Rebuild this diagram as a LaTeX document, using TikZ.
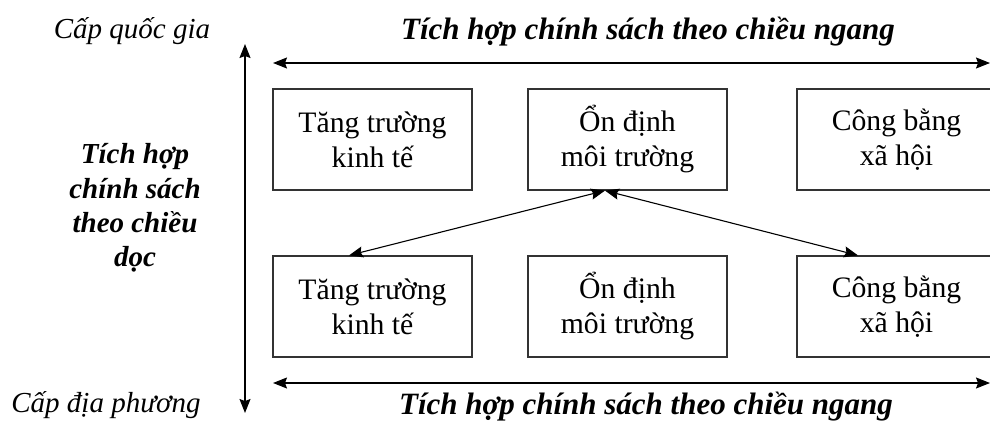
\documentclass[tikz,border=0pt]{standalone}
\usepackage{fontspec}
\setmainfont{Liberation Serif}
\usetikzlibrary{arrows.meta,calc}
\begin{document}
\begin{tikzpicture}[x=1pt,y=-1pt,
  tip/.tip={Stealth[length=14pt,width=11pt,inset=2pt]},
  box/.style={draw=black!80, line width=1.2pt, minimum width=199pt, minimum height=101pt,
    inner sep=0pt, align=center, font=\fontsize{29.7}{35}\selectfont},
  axis/.style={line width=1.1pt, tip-tip},
  link/.style={line width=1.1pt, tip-tip},
  heading/.style={font=\fontsize{31}{34}\selectfont\bfseries\itshape, inner sep=0pt},
  sidehead/.style={font=\fontsize{29}{34.3}\selectfont\bfseries\itshape, inner sep=0pt, align=center},
  level/.style={font=\fontsize{29}{34}\selectfont\itshape, inner sep=0pt}]
\useasboundingbox (0,0) rectangle (990,421);
\clip (0,0) rectangle (990,421);

% policy areas at national level
\node[box] (t1) at (372.5,139.5) {Tăng trường\\kinh tế};
\node[box] (t2) at (627.5,139.5) {Ổn định\\môi trường};
\node[box] (t3) at (896.5,139.5) {Công bằng\\xã hội};
% policy areas at local level
\node[box] (b1) at (372.5,306.5) {Tăng trường\\kinh tế};
\node[box] (b2) at (627.5,306.5) {Ổn định\\môi trường};
\node[box] (b3) at (896.5,306.5) {Công bằng\\xã hội};

% level labels
\node[level] (nat) at (132,31) {Cấp quốc gia};
\node[level] (loc) at (106,405) {Cấp địa phương};
\node[heading] (htop) at (648,32) {Tích hợp chính sách theo chiều ngang};
\node[heading] (hbot) at (646,406.5) {Tích hợp chính sách theo chiều ngang};
\node[sidehead] (vert) at (135,208)
  {Tích hợp\\chính sách\\theo chiều\\dọc};

% axes
\coordinate (vtop) at (245,44);
\coordinate (vbot) at (245,413);
\coordinate (htl) at (273,63);
\coordinate (htr) at (990,63);
\coordinate (hbl) at (273,383);
\coordinate (hbr) at (990,383);
\draw[axis] (vtop) -- (vbot);
\draw[axis] (htl) -- (htr);
\draw[axis] (hbl) -- (hbr);

% links between environment (national) and local areas
\coordinate (hub) at ($(t2.south)+(-22.5,0)$);
\coordinate (lk1) at ($(b1.north)+(-23.5,0)$);
\coordinate (lk3) at ($(b3.north)+(-38.5,0)$);
\draw[link] (lk1) -- (hub);
\draw[link] (hub) -- (lk3);
\end{tikzpicture}
\end{document}
